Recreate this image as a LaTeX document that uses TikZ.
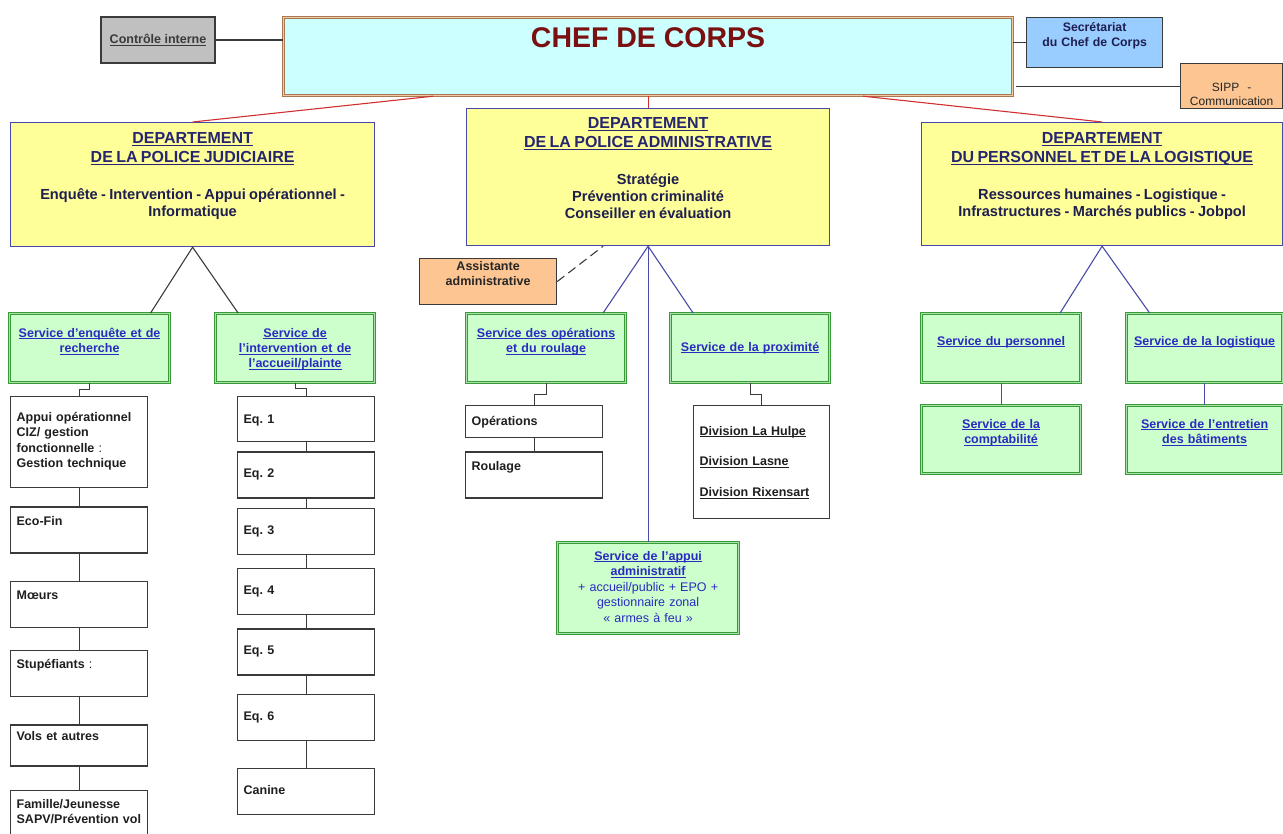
\documentclass[tikz,border=0pt]{standalone}
\usepackage{fontspec}
\setmainfont{Liberation Sans}
\usetikzlibrary{positioning}

\definecolor{chefcyan}{HTML}{CCFFFF}
\definecolor{chefbrown}{HTML}{A87850}
\definecolor{cheflight}{HTML}{F2C9A4}
\definecolor{chefred}{HTML}{7A1010}
\definecolor{ctrlgray}{HTML}{C0C0C0}
\definecolor{secrblue}{HTML}{99CCFF}
\definecolor{paleorange}{HTML}{FCC591}
\definecolor{deptyellow}{HTML}{FFFF99}
\definecolor{deptline}{HTML}{4848A8}
\definecolor{svcgreen}{HTML}{3A9A3A}
\definecolor{svclight}{HTML}{A8E4A8}
\definecolor{svcfill}{HTML}{CCFFCC}
\definecolor{linkblue}{HTML}{2A2AC0}
\definecolor{navy}{HTML}{262670}
\definecolor{darknavy}{HTML}{1E1E50}
\definecolor{redline}{HTML}{D03030}
\definecolor{blueline}{HTML}{4A4AA8}
\definecolor{darkline}{HTML}{3A3A3A}

\newcommand{\uln}[1]{\leavevmode\setbox0=\hbox{#1}\rlap{\rule[-0.17em]{\wd0}{0.08em}}\box0}
\newcommand{\smallfnt}{\fontsize{12.5}{15.3}\selectfont\bfseries}
\newcommand{\titlefnt}{\fontsize{16}{19}\selectfont\bfseries\color{navy}}
\newcommand{\bodyfnt}{\fontsize{14.6}{17}\selectfont\bfseries\color{darknavy}}

\tikzset{
  toptext/.style 2 args={
    text height=#1pt,
    text depth=#2pt
    },
  chefbox/.style={
    rectangle,
    draw=chefbrown,
    double=cheflight,
    double distance=1.2pt,
    line width=1.2pt,
    fill=chefcyan,
    inner sep=0pt,
    text=chefred,
    font=\fontsize{28.5}{32}\selectfont\bfseries
    },
  ctrlbox/.style={
    rectangle,
    draw=darkline,
    line width=1.2pt,
    fill=ctrlgray,
    text=darkline,
    font=\smallfnt
    },
  secrbox/.style={
    rectangle,
    draw=darkline,
    line width=1.2pt,
    fill=secrblue,
    inner xsep=0pt,
    inner ysep=0pt,
    align=center,
    text=darknavy,
    font=\fontsize{12.3}{15}\selectfont\bfseries
    },
  orangebox/.style={
    rectangle,
    draw=darkline,
    line width=1.2pt,
    fill=paleorange,
    inner xsep=0pt,
    inner ysep=0pt,
    align=center,
    text=black!85
    },
  deptbox/.style={
    rectangle,
    draw=deptline,
    line width=1.2pt,
    fill=deptyellow,
    inner xsep=7pt,
    inner ysep=0pt,
    align=center
    },
  svcbox/.style={
    rectangle,
    draw=svcgreen,
    double=svclight,
    double distance=1.1pt,
    line width=1.2pt,
    fill=svcfill,
    inner xsep=4pt,
    inner ysep=0pt,
    align=center,
    text=linkblue,
    font=\smallfnt
    },
  listbox/.style={
    rectangle,
    draw=darkline,
    line width=1.3pt,
    fill=white,
    text width=125pt,
    inner xsep=6pt,
    inner ysep=0pt,
    align=left,
    text=black!88,
    font=\smallfnt
    },
  redlink/.style={draw=redline, line width=1.1pt},
  darklink/.style={draw=darkline, line width=1.1pt},
  bluelink/.style={draw=blueline, line width=1.1pt},
  dashlink/.style={draw=darkline, line width=1.1pt, dash pattern=on 9pt off 5pt},
}

\begin{document}
\begin{tikzpicture}[x=1pt, y=-1pt]
\clip[use as bounding box] (0,0) rectangle (1283,834);

% top level
\node (chef) [chefbox, anchor=north west, minimum width=729pt, toptext={30}{48}] at (283,17) {CHEF DE CORPS};
\node (ctrl) [ctrlbox, minimum width=114pt, minimum height=46pt] at (158,40) {\uln{Contrôle interne}};
\node (secr) [secrbox, anchor=north west, text width=136pt, toptext={14}{36}] at (1026,17) {Secrétariat\\du Chef de Corps};
\node (sipp) [orangebox, anchor=north west, text width=102pt, toptext={28.3}{16.7}, font=\fontsize{12}{13.5}\selectfont] at (1180,63) {SIPP \ -\\Communication};

% departements
\node (pj) [deptbox, anchor=north west, text width=350pt, toptext={20.5}{103.5}] at (10,122) {
  {\titlefnt \uln{DEPARTEMENT}\\ \uln{DE LA POLICE JUDICIAIRE}\par}
  \vspace{20pt}
  {\bodyfnt Enquête - Intervention - Appui opérationnel -\\ Informatique\par}};
\node (pa) [deptbox, anchor=north west, text width=349pt, toptext={19.5}{117.5}] at (466,108) {
  {\titlefnt \uln{DEPARTEMENT}\\ \uln{DE LA POLICE ADMINISTRATIVE}\par}
  \vspace{20pt}
  {\bodyfnt Stratégie\\ Prévention criminalité\\ Conseiller en évaluation\par}};
\node (dpl) [deptbox, anchor=north west, text width=347pt, toptext={20.5}{102.5}] at (921,122) {
  {\titlefnt \uln{DEPARTEMENT}\\ \uln{DU PERSONNEL ET DE LA LOGISTIQUE}\par}
  \vspace{20pt}
  {\bodyfnt Ressources humaines - Logistique -\\ Infrastructures - Marchés publics - Jobpol\par}};
\node (assist) [orangebox, anchor=north west, text width=137pt, toptext={11.5}{34.5}, font=\smallfnt] at (419,258) {Assistante\\administrative};

% services
\node (enq) [svcbox, anchor=north west, text width=152pt, toptext={23.5}{45.5}] at (9,313) {\uln{Service d'enquête et de}\\ \uln{recherche}};
\node (interv) [svcbox, anchor=north west, text width=151pt, toptext={23.5}{45.5}] at (215,313) {\uln{Service de}\\ \uln{l'intervention et de}\\ \uln{l'accueil/plainte}};
\node (ops) [svcbox, anchor=north west, text width=151pt, toptext={23.5}{45.5}] at (466,313) {\uln{Service des opérations}\\ \uln{et du roulage}};
\node (prox) [svcbox, anchor=north west, text width=151pt, toptext={37.5}{31.5}] at (670,313) {\uln{Service de la proximité}};
\node (appadm) [svcbox, anchor=north west, text width=173pt, toptext={17.5}{73.5}, font=\fontsize{12.5}{15.6}\selectfont\bfseries] at (557,542) {\uln{Service de l'appui}\\ \uln{administratif}\par
  \mdseries + accueil/public + EPO +\\ gestionnaire zonal\\ « armes à feu »};
\node (pers) [svcbox, anchor=north west, text width=151pt, toptext={31.5}{37.5}] at (921,313) {\uln{Service du personnel}};
\node (logi) [svcbox, anchor=north west, text width=148pt, toptext={31.5}{37.5}] at (1126,313) {\uln{Service de la logistique}};
\node (compta) [svcbox, anchor=north west, text width=151pt, toptext={22.5}{45.5}] at (921,405) {\uln{Service de la}\\ \uln{comptabilité}};
\node (entre) [svcbox, anchor=north west, text width=148pt, toptext={22.5}{45.5}] at (1126,405) {\uln{Service de l'entretien}\\ \uln{des bâtiments}};

% police judiciaire: colonnes
\node (appui) [listbox, anchor=north west, toptext={25}{66}] at (10,396) {Appui opérationnel\\CIZ/ gestion\\fonctionnelle {\mdseries :}\\Gestion technique};
\node (ecofin) [listbox, below=18pt of appui, toptext={18.5}{27.5}] {Eco-Fin};
\node (moeurs) [listbox, below=27pt of ecofin, toptext={18}{28}] {Mœurs};
\node (stup) [listbox, below=22pt of moeurs, toptext={18}{28}] {Stupéfiants {\mdseries :}};
\node (vols) [listbox, below=27pt of stup, toptext={16}{25}] {Vols et autres};
\node (famille) [listbox, below=23pt of vols, toptext={18}{52}] {Famille/Jeunesse\\SAPV/Prévention vol};

\node (eq1) [listbox, anchor=north west, toptext={26.5}{18.5}] at (237,396) {Eq.\ 1};
\node (eq2) [listbox, below=9pt of eq1, toptext={26}{20}] {Eq.\ 2};
\node (eq3) [listbox, below=9pt of eq2, toptext={26}{20}] {Eq.\ 3};
\node (eq4) [listbox, below=13pt of eq3, toptext={26}{20}] {Eq.\ 4};
\node (eq5) [listbox, below=13pt of eq4, toptext={26}{20}] {Eq.\ 5};
\node (eq6) [listbox, below=18pt of eq5, toptext={26}{20}] {Eq.\ 6};
\node (canine) [listbox, below=27pt of eq6, toptext={26}{20}] {Canine};

% police administrative: colonnes
\node (opers) [listbox, anchor=north west, toptext={19.5}{12.5}] at (465,405) {Opérations};
\node (roul) [listbox, below=13pt of opers, toptext={18.5}{27.5}] {Roulage};
\node (divis) [listbox, anchor=north west, text width=124pt, toptext={29.5}{83.5}] at (693,405) {\uln{Division La Hulpe}\\[15.5pt] \uln{Division Lasne}\\[15.5pt] \uln{Division Rixensart}};

% liens
\draw[redlink] ([xshift=-215pt]chef.south) -- (pj.north);
\draw[redlink] (chef.south) -- (pa.north);
\draw[redlink] ([xshift=215pt]chef.south) -- (dpl.north);
\draw[darklink] (ctrl.east) -- (ctrl.east -| chef.west);
\draw[darklink] (secr.west) -- (secr.west -| chef.east);
\draw[darklink] (sipp.west) -- ([xshift=3pt]sipp.west -| chef.east);

\draw[darklink] ([xshift=61pt]enq.north) -- (pj.south) -- ([xshift=-57pt]interv.north);
\draw[bluelink] ([xshift=57pt]ops.north) -- (pa.south) -- ([xshift=-57pt]prox.north);
\draw[bluelink] (pa.south) -- (appadm.north);
\draw[dashlink] (assist.east) -- ([xshift=-45pt]pa.south);
\draw[bluelink] ([xshift=59pt]pers.north) -- (dpl.south) -- ([xshift=-55pt]logi.north);
\draw[bluelink] (pers) -- (compta);
\draw[bluelink] (logi) -- (entre);

\draw[darklink] (enq.south) -- ++(0,6) -| (appui.north);
\foreach \a/\b in {appui/ecofin, ecofin/moeurs, moeurs/stup, stup/vols, vols/famille}
  \draw[darklink] (\a) -- (\b);
\draw[darklink] (interv.south) -- ++(0,5) -| (eq1.north);
\foreach \a/\b in {eq1/eq2, eq2/eq3, eq3/eq4, eq4/eq5, eq5/eq6, eq6/canine}
  \draw[darklink] (\a) -- (\b);
\draw[darklink] (ops.south) -- ++(0,11) -| (opers.north);
\draw[darklink] (opers) -- (roul);
\draw[darklink] (prox.south) -- ++(0,11) -| (divis.north);
\end{tikzpicture}
\end{document}
